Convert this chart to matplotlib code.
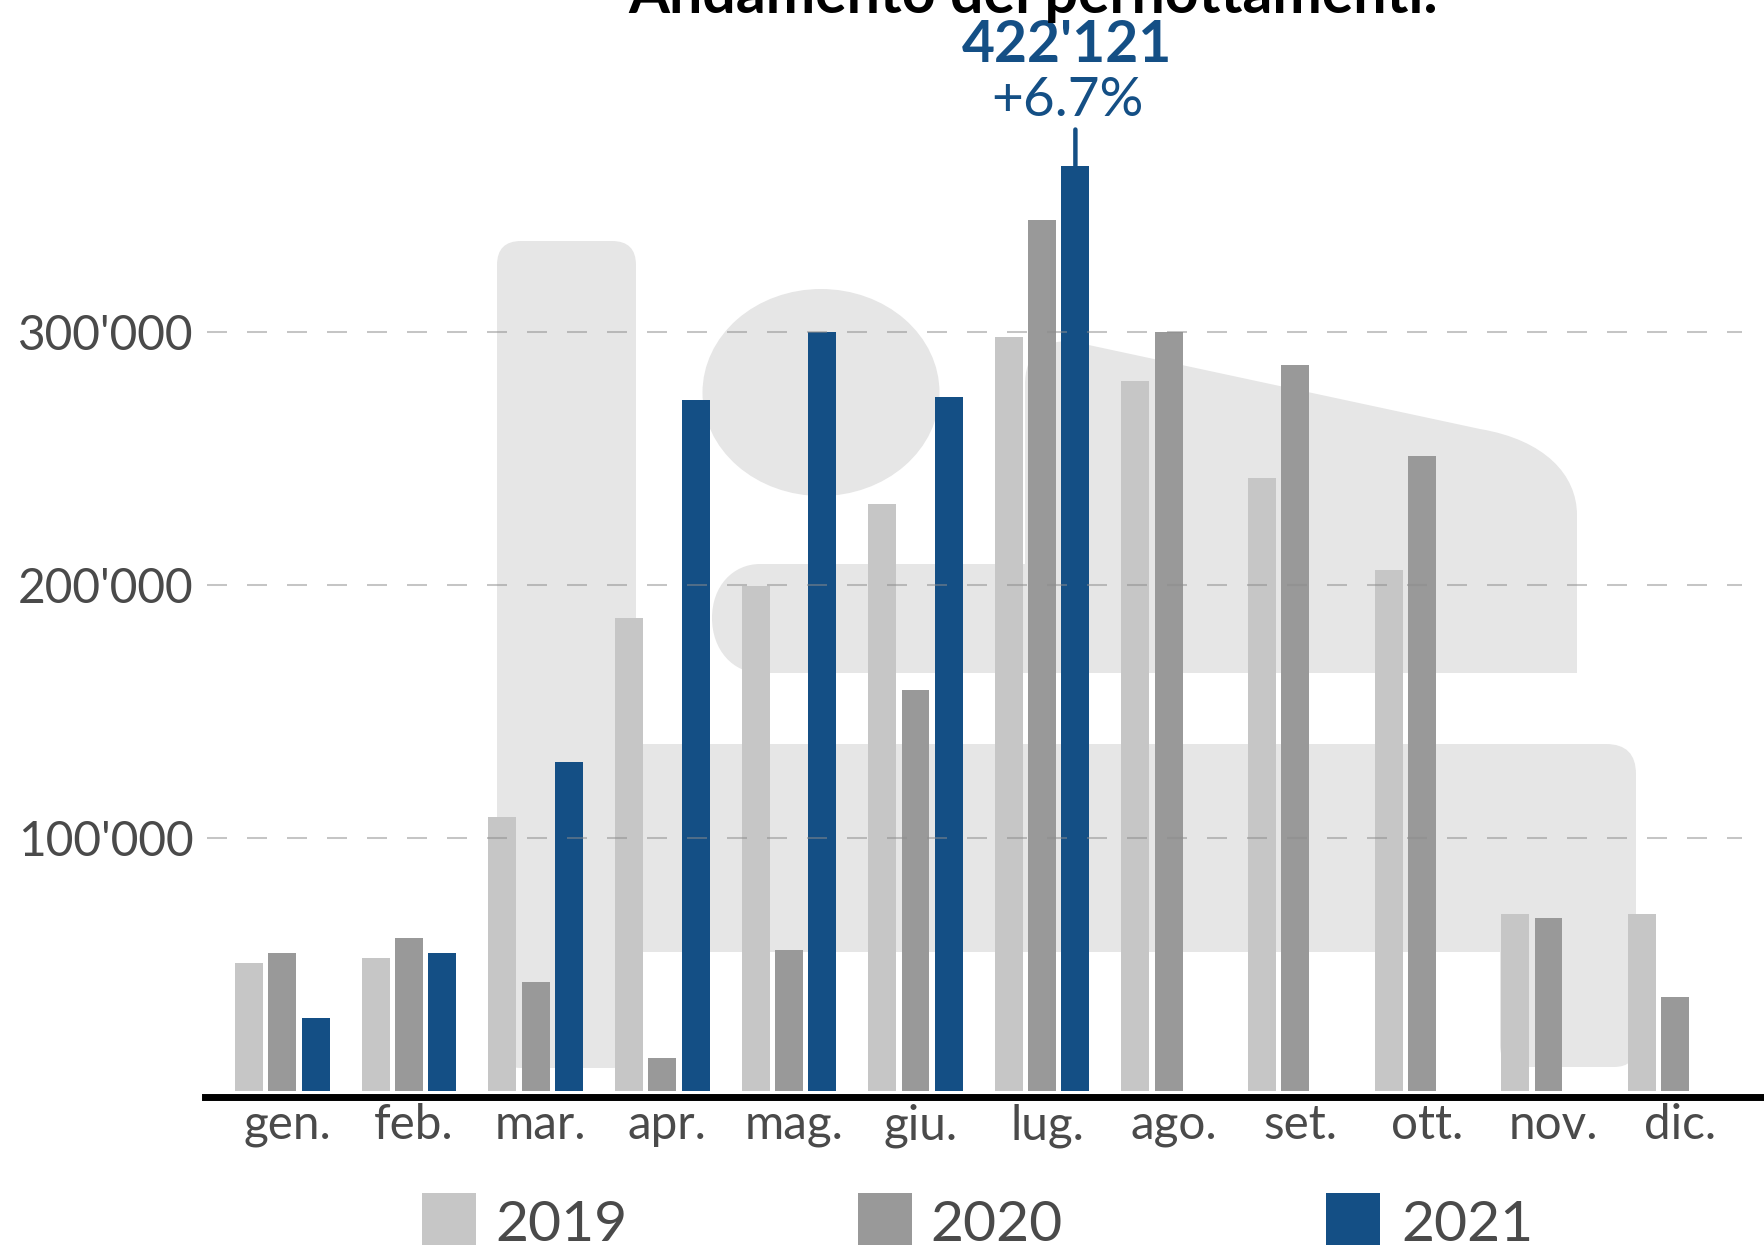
import numpy as np
import matplotlib
matplotlib.use('Agg')
import matplotlib.pyplot as plt
import matplotlib.transforms as mtransforms
from matplotlib.patches import Ellipse, FancyBboxPatch, PathPatch, Rectangle
from matplotlib.path import Path

plt.rcParams['font.family'] = ['Lato', 'DejaVu Sans']
plt.rcParams['lines.scale_dashes'] = False

# data (pernottamenti per mese)
months = ['gen.', 'feb.', 'mar.', 'apr.', 'mag.', 'giu.',
          'lug.', 'ago.', 'set.', 'ott.', 'nov.', 'dic.']
years = ['2019', '2020', '2021']
v2019 = [50800, 52600, 108300, 187200, 199800, 232100,
         298400, 281000, 242600, 206200, 70000, 70000]
v2020 = [54400, 60600, 43200, 13200, 55600, 158700,
         344300, 300000, 287100, 251200, 68600, 37000]
v2021 = [29000, 54400, 130100, 273100, 300000, 274600,
         366000, np.nan, np.nan, np.nan, np.nan, np.nan]
y_ticks = [100000, 200000, 300000]
peak_label = "422'121"
peak_change = '+6.7%'

colors = ['#c6c6c6', '#999999', '#144f85']
text_gray = '#4a4a4a'
bg_gray = '#e6e6e6'

W, H = 1765, 1245
fig = plt.figure(figsize=(W / 100, H / 100), dpi=100)
ax = fig.add_axes([205 / W, (H - 1096.5) / H, 1560 / W, 1096.5 / H])

# pixel transform (origin top-left) for the decorative background
px = mtransforms.Affine2D().scale(1, -1).translate(0, H)

shapes = [
    FancyBboxPatch((497, 241), 139, 827,
                   boxstyle='round,pad=0,rounding_size=24'),
    Ellipse((821, 392.5), 237, 207),
    FancyBboxPatch((600, 744), 1036, 208,
                   boxstyle='round,pad=0,rounding_size=30'),
    FancyBboxPatch((1500, 850), 136, 217,
                   boxstyle='round,pad=0,rounding_size=22'),
]
verts = [(760, 564), (1025, 564), (1025, 385),
         (1025, 355), (1040, 341), (1070, 341),
         (1480, 429),
         (1545, 440), (1577, 475), (1577, 515),
         (1577, 673), (760, 673),
         (733, 673), (712, 650), (712, 618),
         (712, 586), (733, 564), (760, 564), (760, 564)]
codes = [Path.MOVETO, Path.LINETO, Path.LINETO,
         Path.CURVE4, Path.CURVE4, Path.CURVE4,
         Path.LINETO,
         Path.CURVE4, Path.CURVE4, Path.CURVE4,
         Path.LINETO, Path.LINETO,
         Path.CURVE4, Path.CURVE4, Path.CURVE4,
         Path.CURVE4, Path.CURVE4, Path.CURVE4, Path.CLOSEPOLY]
shapes.append(PathPatch(Path(verts, codes)))
for s in shapes:
    s.set_transform(px)
    s.set_facecolor(bg_gray)
    s.set_edgecolor('none')
    s.set_zorder(0)
    ax.add_patch(s)

# bars
x = np.arange(len(months))
width = 0.221
offsets = [-0.263, 0.0, 0.263]
for vals, off, c in zip([v2019, v2020, v2021], offsets, colors):
    ax.bar(x + off, vals, width, color=c, zorder=2)

# dashed grid on top of the bars
ax.hlines(y_ticks, -0.6, 11.53, colors='#8c8c8c', alpha=0.5,
          linewidth=1.45, linestyles=(0, (14.4, 14.4)), zorder=3)

ax.set_xlim(-0.612, 11.71)
ax.set_ylim(-2200, 431500)

ax.set_yticks(y_ticks)
ax.set_yticklabels([f"{v:,}".replace(',', "'") for v in y_ticks])
ax.set_xticks(x + 0.04)
ax.set_xticklabels(months)
ax.tick_params(axis='both', length=0, labelcolor=text_gray)
ax.tick_params(axis='y', pad=8.5, labelsize=34.5)
ax.tick_params(axis='x', pad=5, labelsize=34.3)

for side in ['left', 'top', 'right']:
    ax.spines[side].set_visible(False)
ax.spines['bottom'].set_linewidth(5)
ax.spines['bottom'].set_color('black')
ax.spines['bottom'].set_zorder(4)

# peak annotation (luglio 2021)
x_peak = x[6] + offsets[2]
y_peak = v2021[6]
ax.annotate(peak_label, xy=(x_peak, y_peak), xytext=(-6, 74.5),
            textcoords='offset points', ha='center', va='baseline',
            fontsize=41, fontweight='bold', color=colors[2],
            annotation_clip=False)
ax.annotate(peak_change, xy=(x_peak, y_peak), xytext=(-6, 35.6),
            textcoords='offset points', ha='center', va='baseline',
            fontsize=39.5, color=colors[2], annotation_clip=False)
ax.annotate('', xy=(x_peak, y_peak), xytext=(0, 26),
            textcoords='offset points', annotation_clip=False,
            arrowprops=dict(arrowstyle='-', color=colors[2], lw=3.2,
                            shrinkA=0, shrinkB=0))

# title (cut off at the top, as in the original)
fig.text(1033, 13, 'Andamento dei pernottamenti.', transform=px,
         ha='center', va='baseline', fontsize=42.5, fontweight='bold',
         color='black')

# legend
square_x = [422, 858, 1326]
label_x = [495, 930, 1401]
for yr, c, sx, tx in zip(years, colors, square_x, label_x):
    fig.add_artist(Rectangle((sx, 1193), 54, 80, transform=px,
                             facecolor=c, edgecolor='none'))
    fig.text(tx, 1241, yr, transform=px, ha='left', va='baseline',
             fontsize=41, color=text_gray)

fig.savefig('out.png', dpi=100)
